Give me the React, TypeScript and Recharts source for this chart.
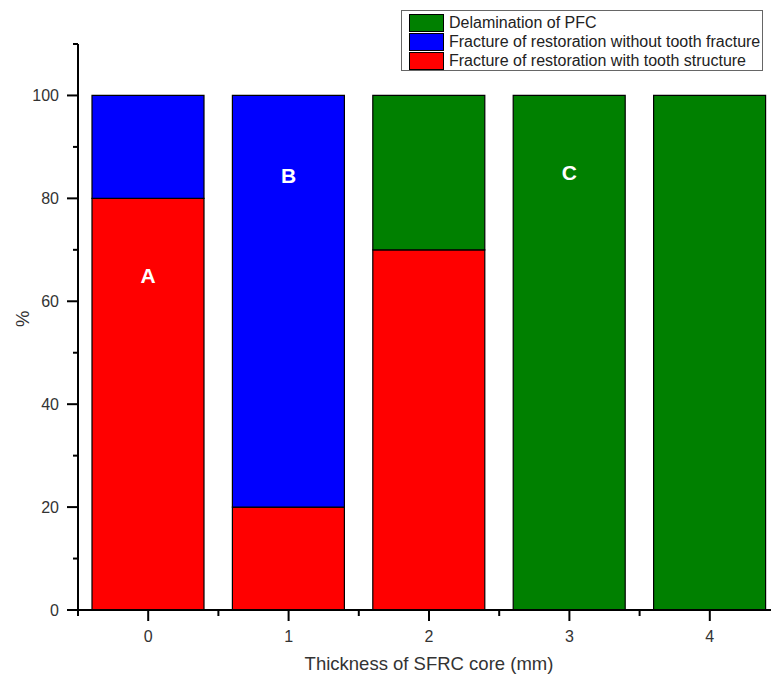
import React from "react";
import { Bar, BarChart, ReferenceDot, XAxis, YAxis } from "recharts";

const thickness = [0, 1, 2, 3, 4];
const withTooth = [80, 20, 70, 0, 0];
const withoutTooth = [20, 80, 0, 0, 0];
const delamination = [0, 0, 30, 100, 100];

const xTicks = [-0.5, 0, 0.5, 1, 1.5, 2, 2.5, 3, 3.5, 4, 4.5];
const yTicks = [0, 10, 20, 30, 40, 50, 60, 70, 80, 90, 100, 110];

const noteLabels = ["A", "B", "C"];
const noteX = [0, 1, 3];
const noteY = [65, 84.5, 85];

const FONT = '"Liberation Sans", Arial, Helvetica, sans-serif';

const data = thickness.map((t, i) => ({
  t,
  withTooth: withTooth[i],
  withoutTooth: withoutTooth[i],
  delamination: delamination[i],
}));

const legendItems = [
  { label: "Delamination of PFC", color: "#008000" },
  { label: "Fracture of restoration without tooth fracture", color: "#0000ff" },
  { label: "Fracture of restoration with tooth structure", color: "#ff0000" },
];

function YTick(props: any) {
  const { x, y, payload } = props;
  const major = payload.value % 20 === 0 && payload.value <= 100;
  return (
    <g>
      <line x1={x - (major ? 11 : 5)} x2={x} y1={y} y2={y} stroke="#000" strokeWidth={2} />
      {major && (
        <text
          x={x - 19}
          y={y}
          dy="0.35em"
          textAnchor="end"
          fontSize={16}
          fontFamily={FONT}
          fill="#333"
        >
          {payload.value}
        </text>
      )}
    </g>
  );
}

function XTick(props: any) {
  const { x, y, payload } = props;
  const major = Number.isInteger(payload.value);
  return (
    <g>
      <line x1={x} x2={x} y1={y} y2={y + (major ? 11 : 6)} stroke="#000" strokeWidth={2} />
      {major && (
        <text
          x={x}
          y={y + 26}
          dy="0.35em"
          textAnchor="middle"
          fontSize={16}
          fontFamily={FONT}
          fill="#333"
        >
          {payload.value}
        </text>
      )}
    </g>
  );
}

function LegendBox() {
  return (
    <div
      style={{
        position: "absolute",
        left: 401,
        top: 10,
        width: 362,
        boxSizing: "border-box",
        border: "1px solid #666",
        background: "#fff",
        padding: "2px 0 0 7px",
        fontFamily: FONT,
        fontSize: 16,
        color: "#222",
      }}
    >
      {legendItems.map((item) => (
        <div key={item.label} style={{ display: "flex", alignItems: "center", height: 19 }}>
          <span
            style={{
              width: 33,
              height: 16,
              background: item.color,
              border: "1px solid #000",
              marginRight: 5,
              flex: "none",
            }}
          />
          <span style={{ whiteSpace: "nowrap" }}>{item.label}</span>
        </div>
      ))}
    </div>
  );
}

export default function App() {
  return (
    <div
      style={{
        position: "fixed",
        left: 0,
        top: 0,
        width: 771,
        height: 682,
        overflow: "hidden",
        background: "#fff",
      }}
    >
      <BarChart
        width={790}
        height={682}
        data={data}
        margin={{ top: 44, right: 10, left: 18, bottom: 0 }}
      >
        <XAxis
          dataKey="t"
          type="number"
          domain={[-0.5, 4.5]}
          ticks={xTicks}
          interval={0}
          tick={<XTick />}
          tickLine={false}
          tickSize={0}
          tickMargin={0}
          axisLine={{ stroke: "#000", strokeWidth: 2 }}
          height={72}
          label={{
            value: "Thickness of SFRC core (mm)",
            position: "insideBottom",
            offset: 12,
            fontSize: 18.5,
            fontFamily: FONT,
            fill: "#333",
          }}
        />
        <YAxis
          type="number"
          domain={[0, 110]}
          ticks={yTicks}
          interval={0}
          tick={<YTick />}
          tickLine={false}
          tickSize={0}
          tickMargin={0}
          axisLine={{ stroke: "#000", strokeWidth: 2 }}
          width={60}
          label={{
            value: "%",
            angle: -90,
            position: "insideLeft",
            offset: 4,
            fontSize: 18.5,
            fontFamily: FONT,
            fill: "#333",
          }}
        />
        <Bar
          dataKey="withTooth"
          stackId="a"
          fill="#ff0000"
          stroke="#000"
          strokeWidth={1.2}
          barSize={112}
          isAnimationActive={false}
        />
        <Bar
          dataKey="withoutTooth"
          stackId="a"
          fill="#0000ff"
          stroke="#000"
          strokeWidth={1.2}
          barSize={112}
          isAnimationActive={false}
        />
        <Bar
          dataKey="delamination"
          stackId="a"
          fill="#008000"
          stroke="#000"
          strokeWidth={1.2}
          barSize={112}
          isAnimationActive={false}
        />
        {noteLabels.map((n, i) => (
          <ReferenceDot
            key={n}
            x={noteX[i]}
            y={noteY[i]}
            r={0}
            fill="none"
            stroke="none"
            label={{
              value: n,
              position: "center",
              fill: "#fff",
              fontSize: 21,
              fontWeight: "bold",
              fontFamily: FONT,
            }}
          />
        ))}
      </BarChart>
      <LegendBox />
    </div>
  );
}
